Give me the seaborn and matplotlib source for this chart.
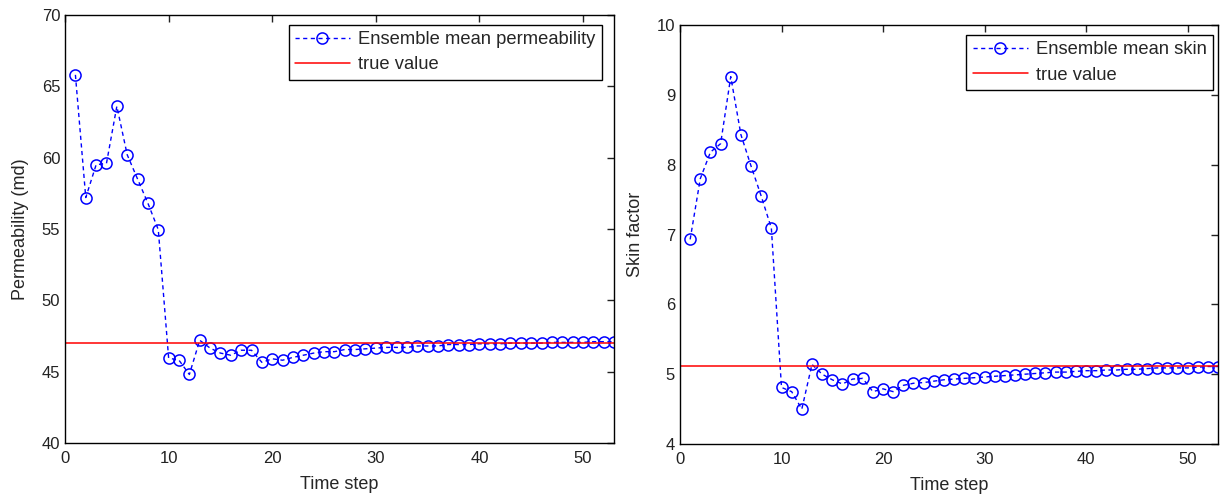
import matplotlib
matplotlib.use('Agg')
import matplotlib.pyplot as plt
import seaborn as sns

# Data
steps = list(range(1, 54))

perm_mean = [65.8, 57.2, 59.5, 59.6, 63.6, 60.2, 58.5, 56.8, 54.95, 45.95,
             45.8, 44.8, 47.2, 46.65, 46.3, 46.15, 46.5, 46.5, 45.65, 45.9,
             45.8, 46.0, 46.15, 46.3, 46.4, 46.4, 46.55, 46.55, 46.6, 46.65,
             46.7, 46.7, 46.7, 46.8, 46.8, 46.8, 46.9, 46.9, 46.9, 46.95,
             46.95, 46.95, 47.0, 47.0, 47.0, 47.0, 47.05, 47.05, 47.05, 47.05,
             47.1, 47.1, 47.1]
perm_true = 47.0

skin_mean = [6.93, 7.80, 8.18, 8.30, 9.26, 8.43, 7.98, 7.55, 7.09, 4.81,
             4.75, 4.50, 5.14, 5.00, 4.92, 4.86, 4.93, 4.94, 4.75, 4.79,
             4.75, 4.84, 4.87, 4.88, 4.90, 4.92, 4.93, 4.94, 4.95, 4.96,
             4.97, 4.98, 4.99, 5.00, 5.01, 5.02, 5.03, 5.03, 5.04, 5.05,
             5.05, 5.06, 5.06, 5.07, 5.07, 5.08, 5.09, 5.09, 5.09, 5.09,
             5.10, 5.11, 5.11]
skin_true = 5.12

sns.set_style('white')
plt.rcParams['font.family'] = ['Liberation Sans', 'DejaVu Sans']

fig = plt.figure(figsize=(12.25, 4.96), dpi=100)
ax1 = fig.add_axes([0.0531, 0.1069, 0.4482, 0.863])
ax2 = fig.add_axes([0.5551, 0.1048, 0.4392, 0.8448])


def draw_panel(ax, y, true_val, mean_label, ylabel, ylim, yticks, anchor):
    sns.lineplot(x=steps, y=y, ax=ax, color='#0000ff', linestyle='--',
                 dashes=False, linewidth=1, marker='o', markersize=8,
                 markerfacecolor='none', markeredgecolor='#0000ff',
                 markeredgewidth=1.1, label=mean_label)
    ax.lines[-1].set_dashes((3, 2.5))
    ax.axhline(true_val, color='#ff0000', linewidth=1.1, label='true value')
    ax.set_xlim(0, 53)
    ax.set_ylim(*ylim)
    ax.set_xticks([0, 10, 20, 30, 40, 50])
    ax.set_yticks(yticks)
    ax.set_xlabel('Time step', fontsize=13, labelpad=7)
    ax.set_ylabel(ylabel, fontsize=13, labelpad=9)
    ax.tick_params(direction='in', length=5, width=1, top=True, right=True,
                   labelsize=12, colors='#222222')
    ax.tick_params(axis='x', pad=6)
    for sp in ax.spines.values():
        sp.set_visible(True)
        sp.set_color('black')
        sp.set_linewidth(1)
    leg = ax.legend(loc='upper right', fontsize=13.2, fancybox=False,
                    framealpha=1, edgecolor='black', borderpad=0.35,
                    handlelength=3.0, handletextpad=0.45, labelspacing=0.45,
                    borderaxespad=0, bbox_to_anchor=anchor)
    leg.get_frame().set_linewidth(1)


draw_panel(ax1, perm_mean, perm_true, 'Ensemble mean permeability',
           'Permeability (md)', (40, 70), [40, 45, 50, 55, 60, 65, 70],
           (0.978, 0.977))
draw_panel(ax2, skin_mean, skin_true, 'Ensemble mean skin',
           'Skin factor', (4, 10), [4, 5, 6, 7, 8, 9, 10],
           (0.991, 0.976))

fig.savefig('out.png', dpi=100)
